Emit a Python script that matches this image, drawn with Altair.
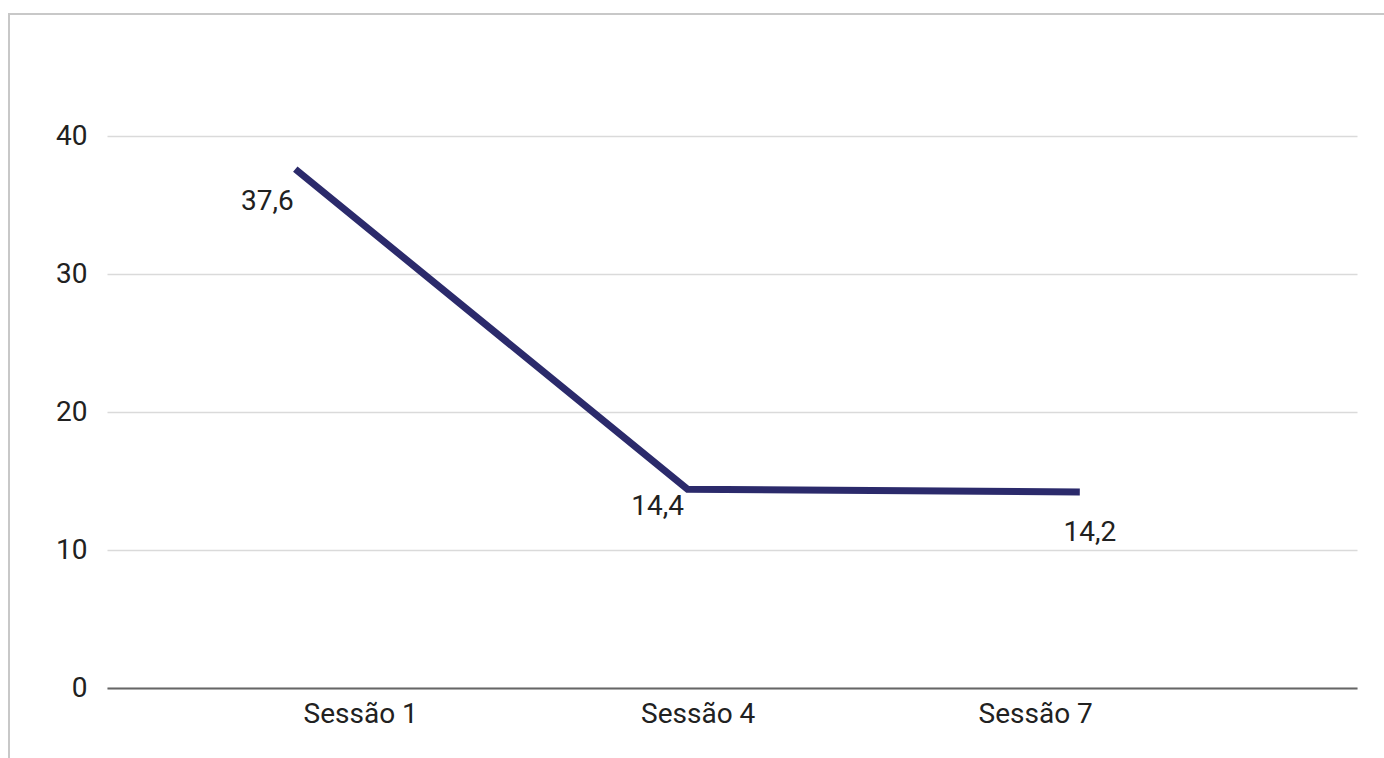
import altair as alt
import pandas as pd

# Session labels, session numbers and the measured values
sessoes = ["Sessão 1", "Sessão 4", "Sessão 7"]
numero = [1, 4, 7]
valores = [37.6, 14.4, 14.2]
rotulos = ["37,6", "14,4", "14,2"]

df = pd.DataFrame({"sessao": sessoes, "n": numero, "valor": valores, "rotulo": rotulos})

FONT = "Roboto"
SIZE = 28
TEXT = "#212121"
LINE = "#2b2a6b"

y_scale = alt.Scale(domain=[0, 40], nice=False)
line_x = alt.Scale(domain=[-0.44, 9.12], nice=False, zero=False)
axis_x = alt.Scale(domain=[-1.25, 9.86], nice=False, zero=False)

base = alt.Chart(df)

line = base.mark_line(
    color=LINE, strokeWidth=7, strokeCap="butt", strokeJoin="miter"
).encode(
    x=alt.X("n:Q", scale=line_x, axis=None),
    y=alt.Y(
        "valor:Q",
        scale=y_scale,
        axis=alt.Axis(
            values=[0, 10, 20, 30, 40],
            title=None,
            domain=False,
            ticks=False,
            grid=True,
            gridColor="#dadada",
            gridWidth=1.5,
            labelFont=FONT,
            labelFontSize=SIZE,
            labelColor=TEXT,
            labelPadding=20,
        ),
    ),
)


def value_label(row, dx, dy):
    return (
        base.transform_filter(alt.datum.n == numero[row])
        .mark_text(font=FONT, fontSize=SIZE, color=TEXT, dx=dx, dy=dy, align="center", baseline="middle")
        .encode(
            x=alt.X("n:Q", scale=line_x, axis=None),
            y=alt.Y("valor:Q", scale=y_scale),
            text="rotulo:N",
        )
    )


labels = [value_label(0, -28, 33), value_label(1, -30, 18), value_label(2, 10, 41)]

# Category axis along the baseline
eixo = base.mark_point(opacity=0).encode(
    x=alt.X(
        "n:Q",
        scale=axis_x,
        axis=alt.Axis(
            orient="bottom",
            values=numero,
            labelExpr="'Sessão ' + datum.value",
            title=None,
            ticks=False,
            grid=False,
            domainColor="#666666",
            domainWidth=2,
            labelFont=FONT,
            labelFontSize=SIZE,
            labelColor=TEXT,
            labelPadding=12,
        ),
    ),
    y=alt.Y("valor:Q", scale=y_scale),
)

# Light frame around the figure
moldura = alt.Chart(pd.DataFrame({"k": [0]})).mark_rect(
    fillOpacity=0, stroke="#c8c8c8", strokeWidth=2, clip=False
).encode(
    x=alt.value(-98), x2=alt.value(1330), y=alt.value(-122), y2=alt.value(680)
)

chart = (
    alt.layer(moldura, eixo, line, *labels)
    .resolve_scale(x="independent")
    .properties(
        width=1250,
        height=552,
        autosize=alt.AutoSizeParams(type="none"),
        padding={"left": 107, "top": 136, "right": 27, "bottom": 70},
        background="white",
    )
    .configure_view(strokeWidth=0)
)

chart.save("out.html", embed_options={"renderer": "svg", "actions": False})
